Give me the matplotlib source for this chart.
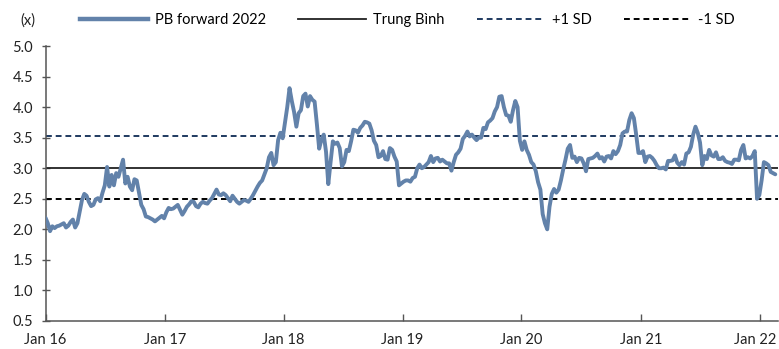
import matplotlib
matplotlib.use("Agg")
import matplotlib.pyplot as plt
import matplotlib.transforms as mtransforms
import pandas as pd
from matplotlib.lines import Line2D

plt.rcParams['font.family'] = ['Lato', 'DejaVu Sans']

# Weekly PB forward 2022 readings starting Jan 2016
pb_values = [
    2.19, 2.10, 1.97, 2.05, 2.02, 2.05, 2.06, 2.08, 2.10, 2.03,
    2.06, 2.12, 2.16, 2.03, 2.10, 2.29, 2.48, 2.58, 2.55, 2.45,
    2.38, 2.40, 2.49, 2.51, 2.46, 2.60, 2.72, 3.02, 2.70, 2.89,
    2.72, 2.92, 2.86, 3.00, 3.14, 2.75, 2.86, 2.70, 2.64, 2.82,
    2.80, 2.60, 2.40, 2.33, 2.21, 2.20, 2.18, 2.16, 2.13, 2.16,
    2.19, 2.22, 2.18, 2.28, 2.35, 2.33, 2.34, 2.37, 2.40, 2.32,
    2.24, 2.30, 2.37, 2.41, 2.46, 2.45, 2.38, 2.36, 2.42, 2.45,
    2.43, 2.42, 2.47, 2.51, 2.58, 2.65, 2.57, 2.56, 2.59, 2.56,
    2.51, 2.46, 2.55, 2.50, 2.45, 2.42, 2.45, 2.48, 2.47, 2.45,
    2.50, 2.56, 2.63, 2.70, 2.76, 2.80, 2.90, 3.00, 3.18, 3.25,
    3.05, 3.10, 3.46, 3.58, 3.49, 3.74, 4.00, 4.31, 4.10, 3.92,
    3.68, 3.90, 3.95, 4.18, 4.22, 4.01, 4.18, 4.12, 4.09, 3.72,
    3.32, 3.47, 3.55, 3.27, 2.74, 3.10, 3.44, 3.40, 3.42, 3.33,
    3.03, 3.10, 3.30, 3.28, 3.44, 3.63, 3.62, 3.58, 3.66, 3.70,
    3.76, 3.75, 3.73, 3.62, 3.45, 3.38, 3.18, 3.20, 3.28, 3.15,
    3.14, 3.33, 3.30, 3.19, 3.11, 2.72, 2.75, 2.78, 2.80, 2.80,
    2.78, 2.84, 2.86, 3.00, 3.06, 3.00, 3.02, 3.06, 3.10, 3.20,
    3.10, 3.16, 3.17, 3.11, 3.14, 3.11, 3.08, 3.08, 2.96, 3.10,
    3.22, 3.26, 3.32, 3.48, 3.53, 3.60, 3.52, 3.55, 3.50, 3.46,
    3.50, 3.50, 3.66, 3.64, 3.75, 3.78, 3.82, 3.93, 4.00, 4.17,
    4.18, 4.00, 3.87, 3.86, 3.76, 3.95, 4.10, 4.00, 3.45, 3.30,
    3.44, 3.30, 3.22, 3.10, 3.06, 2.95, 2.77, 2.65, 2.25, 2.10,
    2.00, 2.37, 2.58, 2.66, 2.60, 2.65, 2.80, 2.98, 3.14, 3.32,
    3.38, 3.17, 3.19, 3.10, 3.17, 3.16, 3.08, 2.95, 3.15, 3.16,
    3.17, 3.20, 3.24, 3.16, 3.18, 3.11, 3.19, 3.20, 3.16, 3.28,
    3.23, 3.28, 3.38, 3.57, 3.60, 3.60, 3.79, 3.90, 3.82, 3.55,
    3.25, 3.25, 3.28, 3.10, 3.19, 3.20, 3.17, 3.12, 3.05, 3.00,
    3.00, 3.01, 2.98, 3.12, 3.12, 3.13, 3.21, 3.09, 3.05, 3.10,
    3.06, 3.24, 3.26, 3.35, 3.55, 3.68, 3.58, 3.42, 3.05, 3.20,
    3.15, 3.30, 3.21, 3.19, 3.26, 3.15, 3.15, 3.18, 3.12, 3.10,
    3.09, 3.07, 3.14, 3.14, 3.13, 3.30, 3.38, 3.16, 3.18, 3.16,
    3.20, 3.28, 2.50, 2.56, 2.80, 3.10, 3.08, 3.05, 2.94, 2.92, 2.90,
]
start_date = "2016-01-01"
mean_value = 3.01
plus_1sd = 3.53
minus_1sd = 2.49

series_labels = ["PB forward 2022", "Trung Bình", "+1 SD", "-1 SD"]
x_tick_dates = ["2016-01-01", "2017-01-01", "2018-01-01", "2019-01-01",
                "2020-01-01", "2021-01-01", "2022-01-01"]
x_tick_labels = ["Jan 16", "Jan 17", "Jan 18", "Jan 19", "Jan 20", "Jan 21", "Jan 22"]
y_ticks = [0.5, 1.0, 1.5, 2.0, 2.5, 3.0, 3.5, 4.0, 4.5, 5.0]

dates = pd.date_range(start_date, periods=len(pb_values), freq="7D")

fig = plt.figure(figsize=(7.79, 3.49), dpi=100)
ax = fig.add_axes([45.5 / 779, 1 - 321 / 349, (779 - 45.5) / 779 - 0.001, (321 - 46) / 349])

line_color = "#6282AA"
ax.plot(dates, pb_values, color=line_color, lw=2.8, solid_joinstyle="round",
        solid_capstyle="round", zorder=3)
ax.axhline(mean_value, color="#222222", lw=1.3, zorder=2)
ax.axhline(plus_1sd, color="#1F3A60", lw=1.4, ls=(0, (3, 2)), zorder=2)
ax.axhline(minus_1sd, color="#000000", lw=1.4, ls=(0, (3, 2)), zorder=2)

ax.set_xlim(pd.Timestamp("2016-01-01"), pd.Timestamp("2022-02-27"))
ax.set_ylim(0.5, 5.0)
ax.set_yticks(y_ticks)
ax.set_yticklabels([f"{v:.1f}" for v in y_ticks])
ax.set_xticks(pd.to_datetime(x_tick_dates))
ax.set_xticklabels(x_tick_labels)

for s in ["top", "right"]:
    ax.spines[s].set_visible(False)
for s in ["left", "bottom"]:
    ax.spines[s].set_color("#555555")
    ax.spines[s].set_linewidth(1.1)

ax.tick_params(axis="y", direction="inout", length=6, width=1, color="#555555",
               labelsize=10.5, labelcolor="#222222", pad=6)
ax.tick_params(axis="x", direction="in", length=5, width=1, color="#555555",
               labelsize=10.5, labelcolor="#222222", pad=9)

# nudge the last x label so it stays inside the canvas
last_lbl = ax.get_xticklabels()[-1]
last_lbl.set_transform(last_lbl.get_transform() +
                       mtransforms.ScaledTranslation(-4 / 100, 0, fig.dpi_scale_trans))

fig.text(28 / 779, 1 - 21 / 349, "(x)", ha="center", va="center", fontsize=10.5, color="#222222")

handles = [
    Line2D([0], [0], color=line_color, lw=3.2),
    Line2D([0], [0], color="#222222", lw=1.3),
    Line2D([0], [0], color="#1F3A60", lw=1.4, ls=(0, (3, 2))),
    Line2D([0], [0], color="#000000", lw=1.4, ls=(0, (3, 2))),
]
fig.legend(handles, series_labels, loc="center left", bbox_to_anchor=(80 / 779, 1 - 20 / 349),
           ncol=4, frameon=False, fontsize=10.5, handlelength=4.66, handletextpad=0.48,
           columnspacing=2.2, borderpad=0, borderaxespad=0)

fig.savefig("out.png", dpi=100)
